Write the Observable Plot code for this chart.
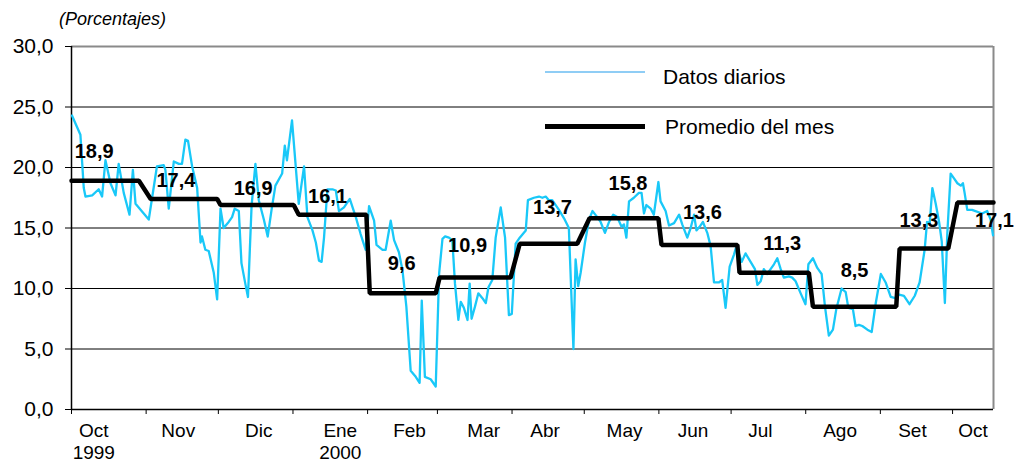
<!DOCTYPE html>
<html><head><meta charset="utf-8">
<script src="https://cdn.jsdelivr.net/npm/d3@7"></script>
<script src="https://cdn.jsdelivr.net/npm/@observablehq/plot@0.6"></script>
<style>
body{margin:0;background:#fff;font-family:"Liberation Sans",Arial,sans-serif;}
#wrap{position:relative;width:1015px;height:463px;overflow:hidden;}
.abs{position:absolute;white-space:nowrap;color:#000;}
</style></head><body><div id="wrap"></div>
<script>
// ---- data ----
const startDate = new Date(Date.UTC(1999, 9, 1));
const endDay = 383;
const monthNames = ["Oct\n1999","Nov","Dic","Ene\n2000","Feb","Mar","Abr","May","Jun","Jul","Ago","Set","Oct"];
const monthMeans = [18.9,17.4,16.9,16.1,9.6,10.9,13.7,15.8,13.6,11.3,8.5,13.3,17.1];
const meanStartDay = [0,32.9,61.9,94.4,123.9,152.9,186.2,215.2,245.1,277.5,308.0,344.0,368.0];
const meanEndDay = [28.0,60.5,92.3,122.5,151.3,182.4,210.1,243.8,276.6,306.3,342.6,364.2,383];
const dailyDay = [0.2,3.7,5.1,5.8,8.6,11.3,12.7,14.1,16.2,18.3,19.6,21.7,24.1,25.5,26.6,28.7,32.1,35.5,38.3,39.0,40.4,42.5,44.6,45.9,47.3,48.4,50.1,52.2,53.6,54.2,55.6,57.0,59.1,60.5,61.9,63.2,65.3,66.7,67.8,69.5,70.6,72.3,73.3,74.8,76.4,77.8,79.9,81.5,83.1,84.7,87.5,88.6,89.5,91.6,94.4,
96.6,98.0,100.1,101.5,102.8,103.9,104.9,106.3,108.4,109.8,111.1,113.2,115.6,118.1,120.1,122.2,123.6,125.7,126.7,129.2,130.5,132.6,134.0,136.0,137.5,139.1,140.9,143.0,144.6,145.5,146.8,149.2,151.3,152.7,154.1,155.2,156.8,158.2,159.3,160.7,161.7,163.0,164.5,165.4,166.2,167.6,169.0,170.7,172.1,173.2,174.8,176.2,178.3,180.1,181.7,182.9,184.5,186.2,188.7,189.6,
192.1,194.2,195.6,197.0,198.3,199.7,202.5,204.6,206.6,208.5,209.4,210.5,211.5,213.3,215.0,216.4,218.0,219.8,221.6,223.3,225.0,226.7,228.5,229.5,230.5,231.6,233.6,235.7,236.8,237.8,238.8,240.6,241.9,243.8,244.7,246.8,248.2,250.3,252.4,253.7,255.8,257.2,258.6,259.6,260.9,262.3,264.1,265.5,266.9,268.9,270.3,271.7,273.4,275.2,276.2,278.4,280.0,282.1,283.9,284.9,286.3,
287.6,289.0,290.4,291.8,293.2,294.6,295.9,298.0,299.4,300.8,302.9,304.9,306.1,308.0,309.8,311.6,313.0,314.6,316.3,317.7,319.9,321.6,322.7,324.6,325.7,327.1,328.5,330.6,332.4,334.1,336.2,338.2,340.3,342.2,343.8,345.8,348.1,350.3,352.3,354.4,355.4,356.5,357.6,359.0,360.4,361.5,362.8,363.8,365.2,366.6,368.0,369.4,370.3,371.0,372.1,374.1,375.5,378.3,380.4,381.8,382.8];
const dailyValue = [24.3,22.7,18.3,17.6,17.7,18.2,17.6,20.6,18.7,17.7,20.3,17.9,16.1,19.8,17.0,16.5,15.7,20.1,20.2,19.8,16.6,20.5,20.3,20.3,22.3,22.2,20.1,18.3,13.8,14.3,13.2,13.1,11.3,9.1,16.6,15.0,15.5,15.9,16.6,16.4,12.1,10.3,9.3,16.8,20.3,17.3,15.7,14.3,16.5,18.5,19.5,21.8,20.6,23.9,17.0,
20.1,15.9,14.8,13.8,12.3,12.2,14.2,18.2,18.2,18.1,16.4,16.7,17.4,15.9,14.5,13.2,16.8,15.6,13.6,13.2,13.2,15.6,14.0,13.0,11.5,8.5,3.2,2.7,2.2,9.0,2.7,2.5,1.9,11.2,14.1,14.3,14.2,14.0,10.4,7.4,8.9,8.4,7.4,10.4,7.5,8.5,9.6,9.2,8.8,10.1,10.7,14.2,16.7,14.2,7.8,7.9,13.7,14.2,14.8,17.3,
17.5,17.6,17.5,17.6,17.3,17.3,16.5,15.8,15.0,5.0,12.4,10.2,11.3,13.8,15.7,16.4,16.0,15.5,14.6,15.5,16.1,15.9,15.1,15.3,14.2,17.2,17.5,17.9,17.9,16.2,16.9,16.6,16.1,18.8,17.2,16.4,15.2,15.4,16.1,15.3,14.2,15.0,16.1,14.8,15.1,15.5,14.6,13.5,10.5,10.5,10.7,8.4,11.8,12.8,13.5,12.2,12.9,12.2,11.6,10.3,10.6,
11.6,11.2,11.6,12.0,12.5,11.6,10.9,11.0,10.9,10.6,9.6,8.7,12.0,12.5,11.7,11.2,8.5,6.1,6.6,8.3,10.0,9.7,8.4,8.3,6.9,7.0,6.9,6.6,6.4,8.8,11.2,10.5,9.3,9.2,9.5,9.4,8.7,9.4,10.5,13.2,15.5,15.4,18.3,17.0,15.5,13.9,8.8,14.5,19.5,19.1,18.7,18.5,18.7,17.9,16.5,16.5,16.4,16.2,16.4,15.7,14.4];
const yTicks = [0,5,10,15,20,25,30];

// ---- layout tweaks (pixels) ----
const labelDx = [-11,-8,-4,-5,-1,-7.5,4,4,3,8,0,-5,19];
const labelDy = [-29,-18.5,-16.5,-18,-30,-32,-36,-35,-32,-29,-36,-28,18];
const monthDx = [-15,-4,3,10,7,9,-3,3,-2,-8,-3,-4,0];

// ---- build ----
const dayToDate = d => new Date(startDate.getTime() + d * 864e5);
const endDate = dayToDate(endDay);
const fmt = v => v.toFixed(1).replace(".", ",");
const daily = dailyDay.map((d, i) => ({date: dayToDate(d), value: dailyValue[i]}));
const meanPts = [];
monthMeans.forEach((m, i) => {
  meanPts.push({date: dayToDate(meanStartDay[i]), value: m});
  meanPts.push({date: dayToDate(meanEndDay[i]), value: m});
});
const meanLabels = monthMeans.map((m, i) => ({
  date: new Date((dayToDate(meanStartDay[i]).getTime() + dayToDate(meanEndDay[i]).getTime()) / 2),
  value: m, label: fmt(m)
}));
const monthStarts = d3.utcMonth.range(startDate, endDate);
const monthMids = monthStarts.map(s => {
  const n = d3.utcMonth.offset(s, 1);
  const e = n < endDate ? n : endDate;
  return {date: new Date((s.getTime() + e.getTime()) / 2)};
});

const font = '"Liberation Sans", Arial, sans-serif';
const chart = Plot.plot({
  width: 1015, height: 463,
  marginLeft: 71, marginRight: 22, marginTop: 46, marginBottom: 54,
  style: {fontFamily: font, fontSize: "21px", color: "#000", background: "#fff", overflow: "visible"},
  x: {type: "utc", domain: [startDate, endDate]},
  y: {domain: [0, 30]},
  marks: [
    Plot.ruleY(yTicks.filter(v => v > 0 && v < 30), {stroke: "#000", strokeWidth: 1}),
    Plot.ruleY([30], {stroke: "#8a8a8a", strokeWidth: 2}),
    Plot.ruleX([endDate], {stroke: "#8a8a8a", strokeWidth: 2}),
    Plot.axisY({ticks: yTicks, tickFormat: fmt, tickSize: 6, tickPadding: 12, label: null, fontSize: 21}),
    Plot.axisX({ticks: monthStarts, tickFormat: () => "", tickSize: 5, label: null}),
    Plot.ruleX([startDate], {stroke: "#000", strokeWidth: 1.5}),
    Plot.ruleY([0], {stroke: "#000", strokeWidth: 1.5}),
    Plot.line(daily, {x: "date", y: "value", stroke: "#19c8f8", strokeWidth: 2.3, strokeLinejoin: "round"}),
    Plot.line(meanPts, {x: "date", y: "value", stroke: "#000", strokeWidth: 4.5, strokeLinejoin: "miter"}),
    ...meanLabels.map((d, i) => Plot.text([d], {x: "date", y: "value", text: "label",
      dx: labelDx[i], dy: labelDy[i], fontSize: 20, fontWeight: "bold", fill: "#000"})),
    ...monthMids.map((d, i) => Plot.text([d], {x: "date", frameAnchor: "bottom", text: () => monthNames[i],
      dx: monthDx[i], dy: 12, lineAnchor: "top", lineHeight: 1.15, fontSize: 19, fill: "#000"}))
  ]
});
const wrap = document.getElementById("wrap");
wrap.appendChild(chart);

function addDiv(html, css) {
  const el = document.createElement("div");
  el.className = "abs";
  el.innerHTML = html;
  Object.assign(el.style, css);
  wrap.appendChild(el);
}
addDiv("(Porcentajes)", {left: "59px", top: "8px", fontSize: "18px", fontStyle: "italic", lineHeight: "22px"});
addDiv("", {left: "545px", top: "71px", width: "100px", height: "2px", background: "#8fcdf5"});
addDiv("Datos diarios", {left: "663px", top: "65px", fontSize: "21px", lineHeight: "24px"});
addDiv("", {left: "545px", top: "124px", width: "100px", height: "5px", background: "#000"});
addDiv("Promedio del mes", {left: "665px", top: "115px", fontSize: "21px", lineHeight: "24px"});
</script></body></html>
